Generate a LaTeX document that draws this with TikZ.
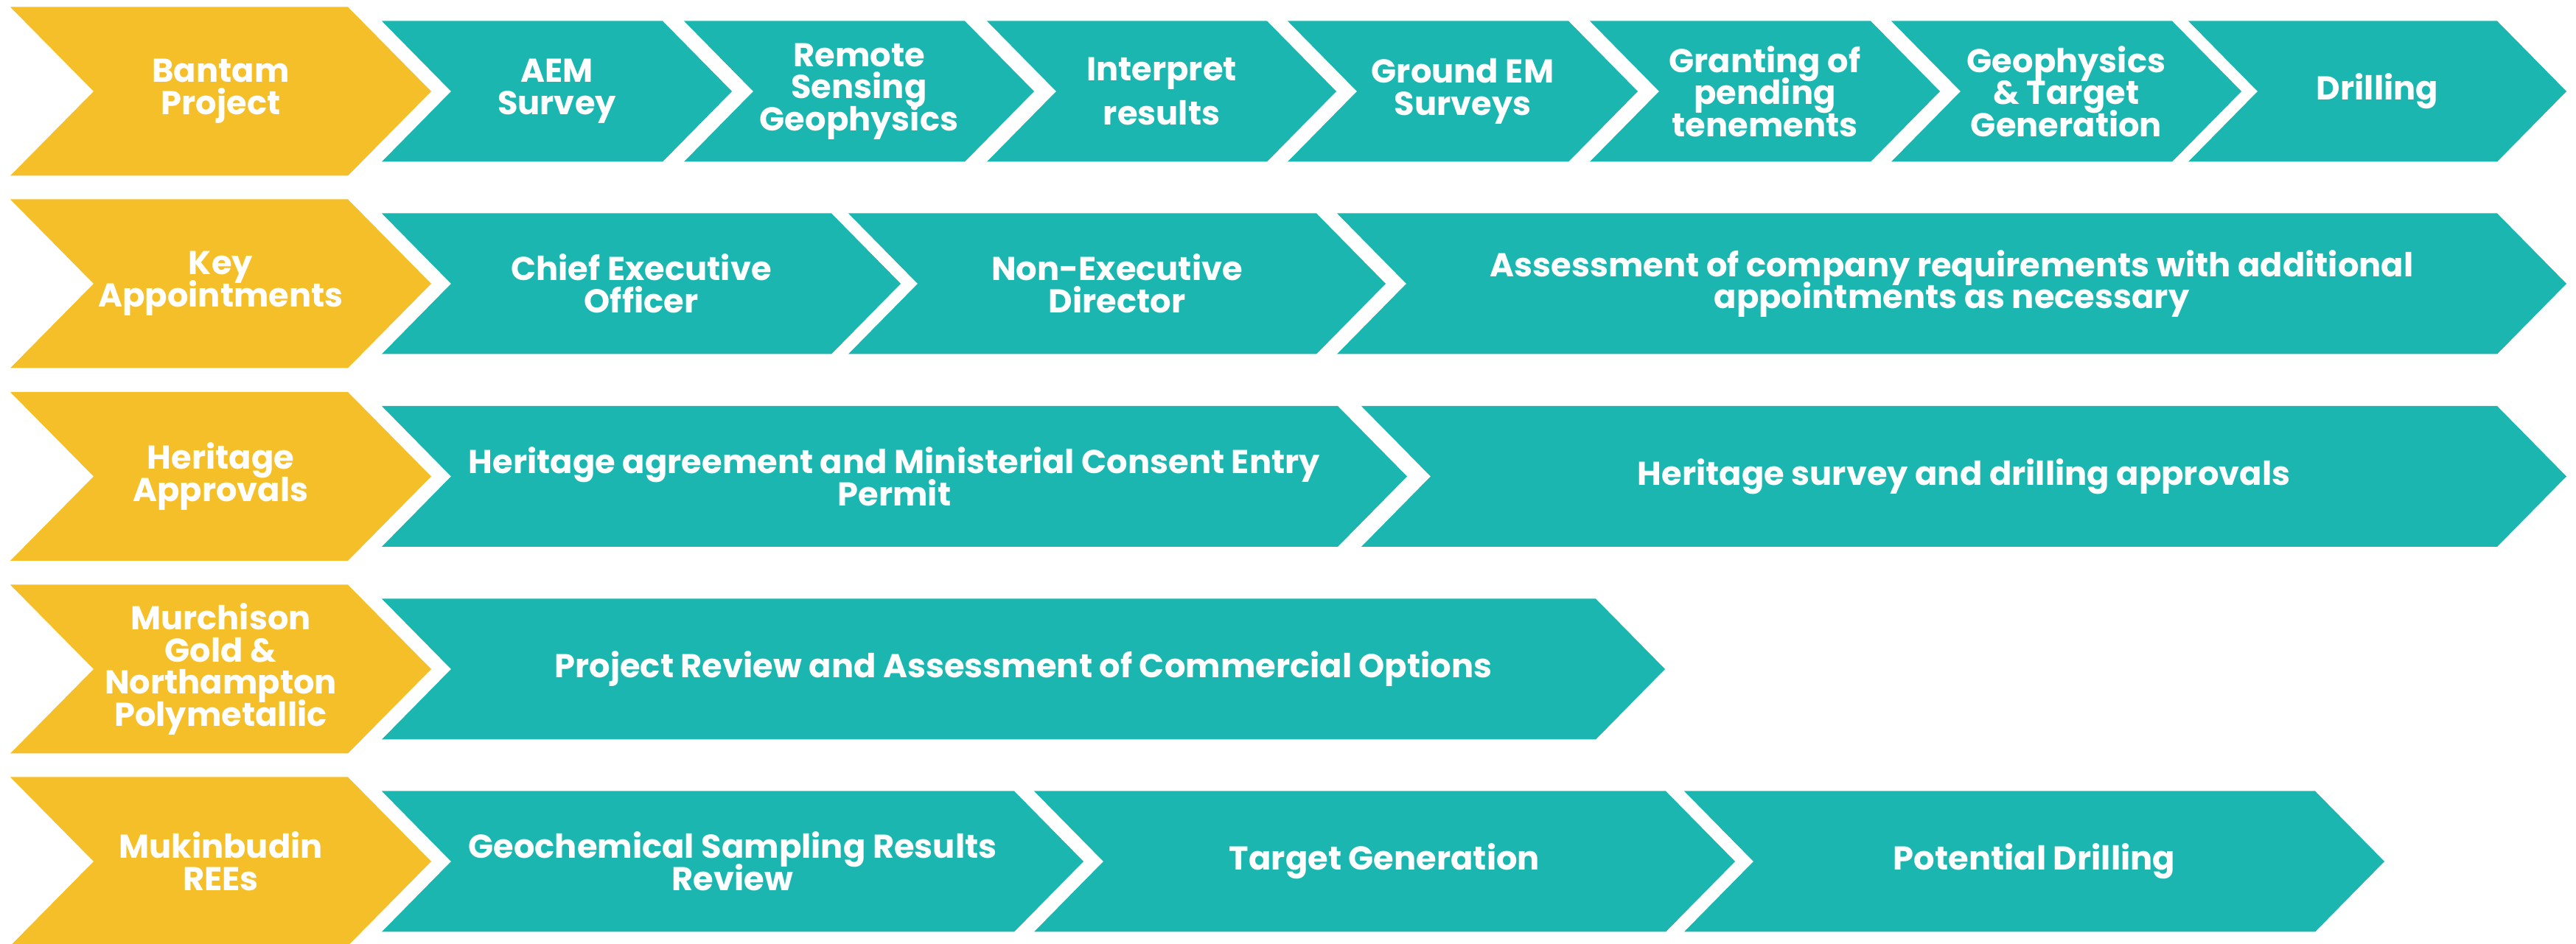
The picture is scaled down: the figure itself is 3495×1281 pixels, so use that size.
\documentclass[tikz,border=0pt]{standalone}
\usepackage{fontspec}
\setmainfont{Poppins}
\definecolor{tealA}{HTML}{1CB6B1}
\definecolor{goldA}{HTML}{F5BF29}
% #1 name, #2 style, #3 left x, #4 right corner x, #5 centre y, #6 half height, #7 depth, #8 text
\newcommand\chevbox[8]{%
  \fill[#2] (#3,#5-#6) -- (#4,#5-#6) -- (#4+#7,#5) -- (#4,#5+#6) -- (#3,#5+#6) -- (#3+#7,#5) -- cycle;
  \node[lbl] (#1) at ({(#3+#7+#4)/2},#5) {#8};
}
\newcommand\ychev[4]{\chevbox{#1}{goldA}{14}{472}{#2}{114.5}{113}{#3}}
\newcommand\tchev[5]{\chevbox{#1}{tealA}{#2}{#3}{#4}{95.5}{94}{#5}}
\begin{document}
\begin{tikzpicture}[x=0.25pt,y=-0.25pt,
  lbl/.style={text=white,font={\bfseries\fontsize{11.2}{10.9}\selectfont\lineskiplimit=-20pt},align=center,inner sep=0pt}]
\useasboundingbox (0,0) rectangle (3495,1281);
% Row 1
\ychev{b0}{124}{Bantam\\Project}{}
\tchev{b1}{518}{899}{124}{AEM\\Survey}
\tchev{b2}{928}{1309}{124}{Remote\\Sensing\\Geophysics}
\tchev{b3}{1339}{1719}{124}{Interpret\\[4pt]results}
\tchev{b4}{1747}{2128}{124}{Ground EM\\Surveys}
\tchev{b5}{2157}{2538}{124}{Granting of\\pending\\tenements}
\tchev{b6}{2566}{2947}{124}{Geophysics\\\& Target\\Generation}
\tchev{b7}{2969}{3388}{124}{Drilling}
% Row 2
\ychev{k0}{385}{Key\\Appointments}{}
\tchev{k1}{518}{1128}{385}{Chief Executive\\Officer}
\tchev{k2}{1151}{1786}{385}{Non-Executive\\Director}
\tchev{k3}{1814}{3388}{385}{Assessment of company requirements with additional\\appointments as necessary}
% Row 3
\ychev{h0}{646.5}{Heritage\\Approvals}{}
\tchev{h1}{518}{1815}{646.5}{Heritage agreement and Ministerial Consent Entry\\Permit}
\tchev{h2}{1847}{3388}{646.5}{Heritage survey and drilling approvals}
% Row 4
\ychev{m0}{908}{Murchison\\Gold \&\\Northampton\\Polymetallic}{}
\tchev{m1}{518}{2165}{908}{Project Review and Assessment of Commercial Options}
% Row 5
\ychev{u0}{1169}{Mukinbudin\\REEs}{}
\tchev{u1}{518}{1376}{1169}{Geochemical Sampling Results\\Review}
\tchev{u2}{1403}{2260}{1169}{Target Generation}
\tchev{u3}{2285}{3141}{1169}{Potential Drilling}
\end{tikzpicture}
\end{document}
